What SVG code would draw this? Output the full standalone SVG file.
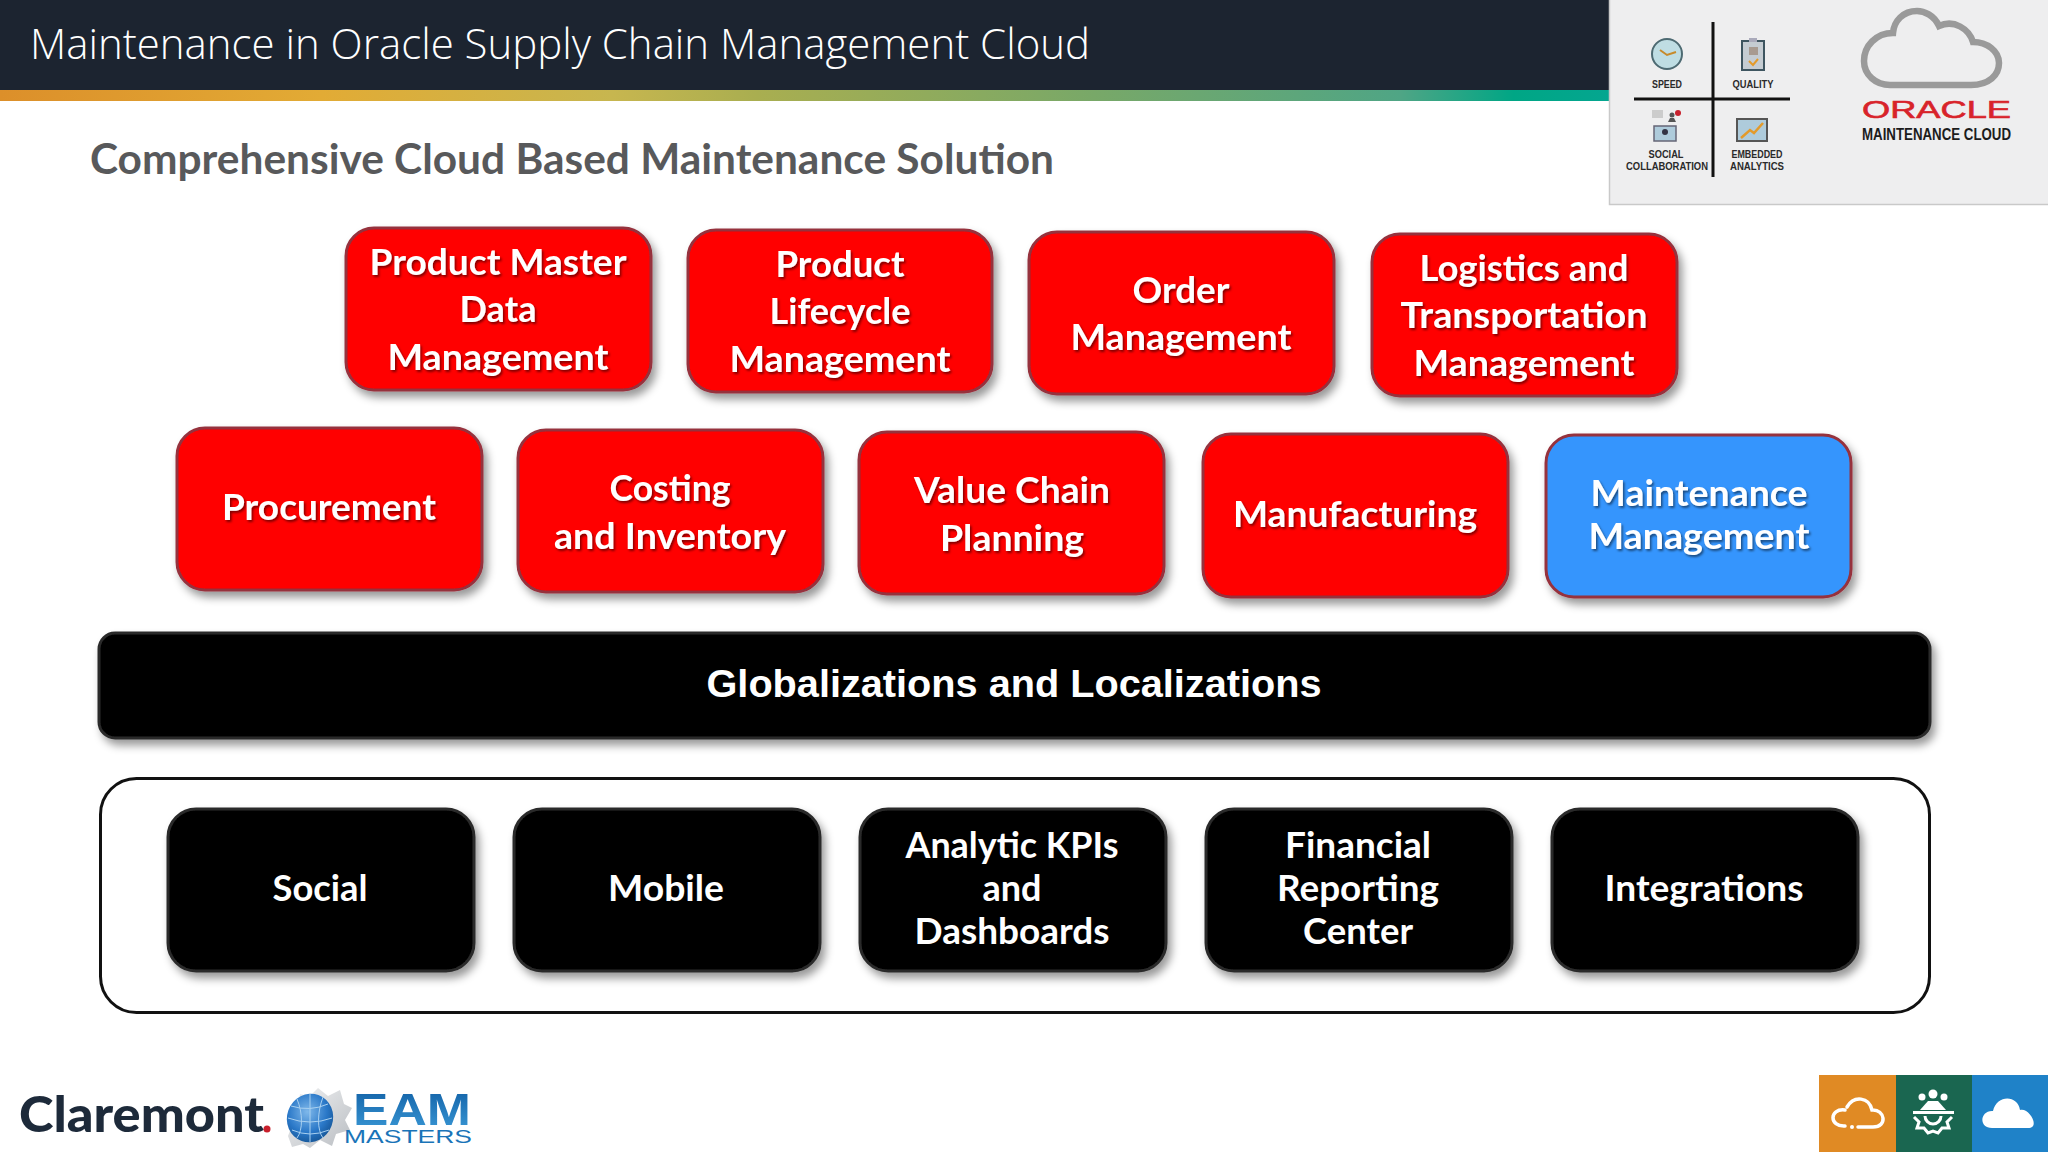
<svg xmlns="http://www.w3.org/2000/svg" width="2048" height="1152" viewBox="0 0 2048 1152">
<style>
.box{filter:url(#bs)}
.red{fill:#ff0000;stroke:#96303c;stroke-width:3}
.blue{fill:#3595fd;stroke:#96303c;stroke-width:3}
.blk{fill:#000;stroke:#2b2b2b;stroke-width:3}
.t{font-family:Lato,"Liberation Sans",sans-serif;font-weight:700;font-size:37px;fill:#fff;text-anchor:middle}
.ts{filter:url(#ts)}
.lg{font-family:"Liberation Sans",sans-serif;font-weight:700;fill:#2a2a2a;font-size:11px;text-anchor:middle}
</style>
<defs>
<linearGradient id="bar" x1="0" x2="1" y1="0" y2="0"><stop offset="0" stop-color="#dc8f2a"/><stop offset=".2" stop-color="#e2ab35"/><stop offset=".38" stop-color="#c7b64f"/><stop offset=".47" stop-color="#a9ae50"/><stop offset=".68" stop-color="#78a868"/><stop offset=".87" stop-color="#4fa585"/><stop offset=".94" stop-color="#00a685"/><stop offset="1" stop-color="#04a690"/></linearGradient>
<radialGradient id="globe" cx=".4" cy=".4" r=".7"><stop offset="0" stop-color="#7fb8ea"/><stop offset=".6" stop-color="#2a78c8"/><stop offset="1" stop-color="#12508f"/></radialGradient>
<linearGradient id="eam" x1="0" x2="0" y1="0" y2="1"><stop offset="0" stop-color="#0f5da3"/><stop offset="1" stop-color="#3c9bd8"/></linearGradient>
<linearGradient id="gear" x1="0" x2="1" y1="0" y2="1"><stop offset="0" stop-color="#f2f3f4"/><stop offset="1" stop-color="#b9bdc2"/></linearGradient>
<filter id="bs" x="-10%" y="-10%" width="125%" height="130%"><feDropShadow dx="4" dy="6" stdDeviation="4" flood-color="#000" flood-opacity=".4"/></filter>
<filter id="ts" x="-5%" y="-15%" width="110%" height="140%"><feDropShadow dx="1.500" dy="2" stdDeviation="1" flood-color="#000" flood-opacity=".5"/></filter>
</defs>
<rect width="2048" height="1152" fill="#fff"/>
<g id="header">
<rect width="1610" height="90" fill="#1c2430"/>
<rect y="90" width="1610" height="11" fill="url(#bar)"/>
<text x="30" y="59" font-family="'Open Sans',sans-serif" font-weight="300" font-size="42" fill="#fff" textLength="1060" lengthAdjust="spacingAndGlyphs">Maintenance in Oracle Supply Chain Management Cloud</text>
<text x="90" y="174" font-family="Lato,sans-serif" font-weight="700" font-size="42" fill="#58595b" textLength="964" lengthAdjust="spacingAndGlyphs">Comprehensive Cloud Based Maintenance Solution</text>
</g>
<g id="logo-panel">
<rect x="1609.500" y="-2" width="440" height="206.500" fill="#eeeeef" stroke="#c9c9c9" stroke-width="1.500"/>
<path d="M1713 22V177M1634 99H1790" stroke="#111" stroke-width="3" fill="none"/>
<circle cx="1667" cy="54" r="15" fill="#bfdde3" stroke="#4d6a72" stroke-width="2"/><path d="M1660 50L1667 55L1676 52" stroke="#c78a2a" stroke-width="2" fill="none"/>
<rect x="1742" y="41" width="22" height="29" fill="#c5ccd2" stroke="#3e5560" stroke-width="2"/><rect x="1749" y="38" width="8" height="4" fill="#aab"/><path d="M1749 61L1753 65L1758 59" stroke="#e39a2a" stroke-width="2" fill="none"/><rect x="1749" y="47" width="9" height="8" fill="#a89a90"/>
<rect x="1652" y="110" width="11" height="8" fill="#ccc"/><circle cx="1672" cy="115" r="2.500" fill="#555"/><path d="M1668 122H1676L1674 118H1670Z" fill="#555"/><circle cx="1678" cy="113" r="3" fill="#c8202c"/><rect x="1654" y="126" width="22" height="15" fill="#aecbdb" stroke="#667" stroke-width="1.500"/><circle cx="1665" cy="132" r="3" fill="#334"/>
<rect x="1737" y="119" width="30" height="22" fill="#aecbdb" stroke="#555" stroke-width="2"/><path d="M1741 138L1750 130L1754 133L1763 123" stroke="#e39a2a" stroke-width="2.500" fill="none"/>
<text class="lg" x="1667" y="88" textLength="30" lengthAdjust="spacingAndGlyphs">SPEED</text>
<text class="lg" x="1753" y="88" textLength="41" lengthAdjust="spacingAndGlyphs">QUALITY</text>
<text class="lg" x="1666" y="158" textLength="35" lengthAdjust="spacingAndGlyphs">SOCIAL</text>
<text class="lg" x="1667" y="170" textLength="82" lengthAdjust="spacingAndGlyphs">COLLABORATION</text>
<text class="lg" x="1757" y="158" textLength="51" lengthAdjust="spacingAndGlyphs">EMBEDDED</text>
<text class="lg" x="1757" y="170" textLength="54" lengthAdjust="spacingAndGlyphs">ANALYTICS</text>
<path d="M1890 85H1971C1989 85 1999 75 1999 63C1999 51 1987 42 1973 42C1969 29 1954 19 1939 26C1934 15 1924 11 1917 11C1903 11 1894 21 1893 33C1876 33 1864 46 1864 61C1864 75 1876 85 1890 85Z" fill="none" stroke="#9a9a9a" stroke-width="6.500"/>
<text x="1862" y="118" font-family="'Liberation Sans',sans-serif" font-size="24" fill="#d8232a" stroke="#d8232a" stroke-width=".6" textLength="149" lengthAdjust="spacingAndGlyphs">ORACLE</text>
<text x="1862" y="140" font-family="'Liberation Sans',sans-serif" font-size="16" font-weight="700" fill="#1c1c1c" textLength="149" lengthAdjust="spacingAndGlyphs">MAINTENANCE CLOUD</text>
</g>
<g id="product-master"><rect class="box red" x="346" y="228" width="305" height="162" rx="28"/><g class="t ts"><text x="498" y="275" textLength="257" lengthAdjust="spacingAndGlyphs">Product Master</text><text x="498" y="322" textLength="77" lengthAdjust="spacingAndGlyphs">Data</text><text x="498" y="370" textLength="221" lengthAdjust="spacingAndGlyphs">Management</text></g></g>
<g id="product-lifecycle"><rect class="box red" x="688" y="230" width="304" height="162" rx="28"/><g class="t ts"><text x="840" y="277" textLength="129" lengthAdjust="spacingAndGlyphs">Product</text><text x="840" y="324" textLength="141" lengthAdjust="spacingAndGlyphs">Lifecycle</text><text x="840" y="372" textLength="221" lengthAdjust="spacingAndGlyphs">Management</text></g></g>
<g id="order"><rect class="box red" x="1029" y="232" width="305" height="162" rx="28"/><g class="t ts"><text x="1181" y="303" textLength="97" lengthAdjust="spacingAndGlyphs">Order</text><text x="1181" y="350" textLength="221" lengthAdjust="spacingAndGlyphs">Management</text></g></g>
<g id="logistics"><rect class="box red" x="1372" y="234" width="305" height="162" rx="28"/><g class="t ts"><text x="1524" y="281" textLength="209" lengthAdjust="spacingAndGlyphs">Logistics and</text><text x="1524" y="328" textLength="247" lengthAdjust="spacingAndGlyphs">Transportation</text><text x="1524" y="376" textLength="221" lengthAdjust="spacingAndGlyphs">Management</text></g></g>
<g id="procurement"><rect class="box red" x="177" y="428" width="305" height="162" rx="28"/><g class="t ts"><text x="329" y="520" textLength="214" lengthAdjust="spacingAndGlyphs">Procurement</text></g></g>
<g id="costing"><rect class="box red" x="518" y="430" width="305" height="162" rx="28"/><g class="t ts"><text x="670" y="501" textLength="121" lengthAdjust="spacingAndGlyphs">Costing</text><text x="670" y="549" textLength="232" lengthAdjust="spacingAndGlyphs">and Inventory</text></g></g>
<g id="value-chain"><rect class="box red" x="859" y="432" width="305" height="162" rx="28"/><g class="t ts"><text x="1012" y="503" textLength="196" lengthAdjust="spacingAndGlyphs">Value Chain</text><text x="1012" y="551" textLength="144" lengthAdjust="spacingAndGlyphs">Planning</text></g></g>
<g id="manufacturing"><rect class="box red" x="1203" y="434" width="305" height="163" rx="28"/><g class="t ts"><text x="1355" y="527" textLength="244" lengthAdjust="spacingAndGlyphs">Manufacturing</text></g></g>
<g id="maintenance"><rect class="box blue" x="1546" y="435" width="305" height="162" rx="28"/><g class="t ts"><text x="1699" y="506" textLength="217" lengthAdjust="spacingAndGlyphs">Maintenance</text><text x="1699" y="549" textLength="221" lengthAdjust="spacingAndGlyphs">Management</text></g></g>
<g id="globalizations"><rect class="box blk" x="99" y="633" width="1831" height="105" rx="16"/><text x="1014" y="697" font-family="'Liberation Sans',sans-serif" font-weight="700" font-size="39" fill="#fff" text-anchor="middle" textLength="615" lengthAdjust="spacingAndGlyphs">Globalizations and Localizations</text></g>
<g id="platform"><rect x="100.500" y="778.500" width="1829" height="234" rx="36" fill="#fff" stroke="#111" stroke-width="3"/></g>
<g id="social"><rect class="box blk" x="168" y="809" width="306" height="162" rx="28"/><g class="t"><text x="320" y="901" textLength="95" lengthAdjust="spacingAndGlyphs">Social</text></g></g>
<g id="mobile"><rect class="box blk" x="514" y="809" width="306" height="162" rx="28"/><g class="t"><text x="666" y="901" textLength="116" lengthAdjust="spacingAndGlyphs">Mobile</text></g></g>
<g id="analytic"><rect class="box blk" x="860" y="809" width="306" height="162" rx="28"/><g class="t"><text x="1012" y="858" textLength="213" lengthAdjust="spacingAndGlyphs">Analytic KPIs</text><text x="1012" y="901" textLength="59" lengthAdjust="spacingAndGlyphs">and</text><text x="1012" y="944" textLength="195" lengthAdjust="spacingAndGlyphs">Dashboards</text></g></g>
<g id="financial"><rect class="box blk" x="1206" y="809" width="306" height="162" rx="28"/><g class="t"><text x="1358" y="858" textLength="146" lengthAdjust="spacingAndGlyphs">Financial</text><text x="1358" y="901" textLength="162" lengthAdjust="spacingAndGlyphs">Reporting</text><text x="1358" y="944" textLength="110" lengthAdjust="spacingAndGlyphs">Center</text></g></g>
<g id="integrations"><rect class="box blk" x="1552" y="809" width="306" height="162" rx="28"/><g class="t"><text x="1704" y="901" textLength="199" lengthAdjust="spacingAndGlyphs">Integrations</text></g></g>
<g id="footer-logos">
<text x="19" y="1132" font-family="Lato,sans-serif" font-weight="900" font-size="50" fill="#1d2a3a" textLength="245" lengthAdjust="spacingAndGlyphs">Claremont</text><circle cx="267" cy="1129" r="3.500" fill="#c8202c"/>
<path d="M300 1094L310 1096L318 1088L328 1096L340 1090L344 1104L352 1108L345 1120L350 1130L336 1134L332 1146L320 1140L310 1148L303 1144L292 1147L288 1136L296 1115Z" fill="url(#gear)"/>
<ellipse cx="310" cy="1118" rx="23" ry="24.500" transform="rotate(20 310 1118)" fill="url(#globe)"/><path d="M288 1118Q310 1126 332 1118M310 1094V1142M297 1099C303 1113 303 1130 297 1138M323 1097C317 1113 317 1130 323 1138M291 1106Q310 1112 328 1104M292 1130Q310 1138 329 1130" stroke="#a8d0f0" stroke-width="1" fill="none"/>
<text x="353" y="1125" font-family="'Liberation Sans',sans-serif" font-weight="700" font-size="45" fill="url(#eam)" textLength="118" lengthAdjust="spacingAndGlyphs">EAM</text>
<text x="344" y="1143" font-family="'Liberation Sans',sans-serif" font-size="18" fill="#1a74b8" textLength="128" lengthAdjust="spacingAndGlyphs">MASTERS</text>
</g>
<g id="footer-icons">
<rect x="1819" y="1075" width="77" height="77" fill="#e08a24"/><rect x="1896" y="1075" width="76" height="77" fill="#1a6650"/><rect x="1972" y="1075" width="76" height="77" fill="#1f82c8"/>
<path d="M1858 1127H1873C1888 1127 1885 1109 1872 1110C1869 1097 1854 1095 1847 1107M1845 1110C1829 1108 1829 1127 1845 1126" fill="none" stroke="#fff" stroke-width="3.500" stroke-linecap="round"/><circle cx="1852" cy="1127" r="2" fill="#fff"/>
<circle cx="1922" cy="1097" r="3.500" fill="#fff"/><circle cx="1933" cy="1094" r="4.500" fill="#fff"/><circle cx="1944" cy="1097" r="3.500" fill="#fff"/>
<path d="M1928 1101H1938L1946 1110H1920Z" fill="#fff"/><rect x="1913" y="1111" width="41" height="3" fill="#fff"/><path d="M1914 1117L1919 1122L1917 1128L1924 1128L1928 1133L1933 1131L1938 1133L1942 1128L1949 1128L1947 1122L1952 1117M1925 1116A8 8 0 0 0 1941 1116" fill="none" stroke="#fff" stroke-width="3"/>
<path d="M1992 1128C1978 1128 1980 1110 1993 1111C1997 1094 2018 1095 2020 1110C2029 1107 2041 1128 2028 1128Z" fill="#fff"/>
</g>
</svg>
